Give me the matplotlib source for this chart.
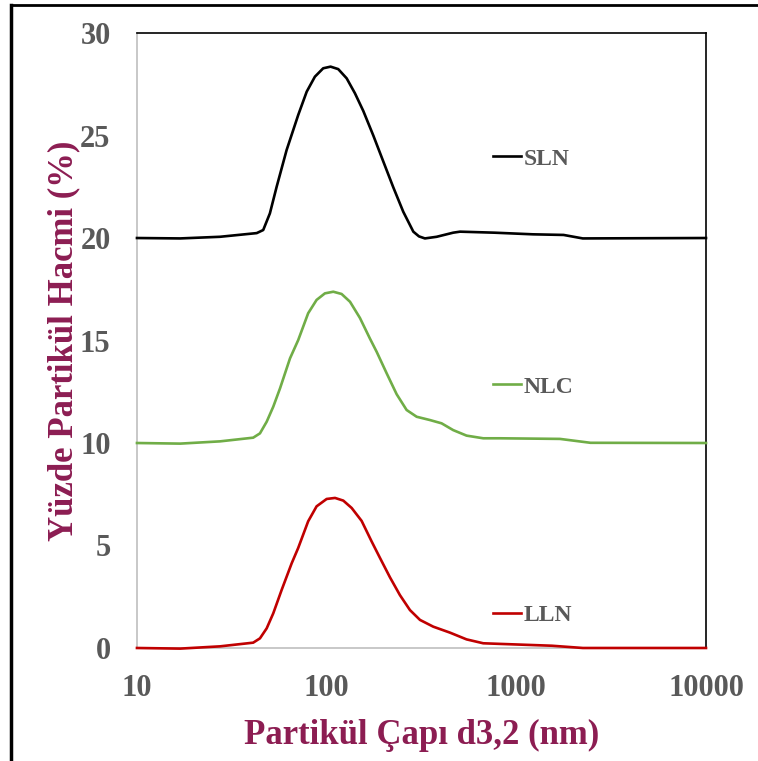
import numpy as np
import matplotlib
matplotlib.use("Agg")
import matplotlib.pyplot as plt
from matplotlib.lines import Line2D

plt.rcParams['font.family'] = ['Liberation Serif', 'DejaVu Serif']
plt.rcParams['font.weight'] = 'bold'

# particle size (nm) and volume % (curves offset by 20 / 10 / 0 as in the original)
sln_x = [10, 16.9, 27.4, 42.8, 46.3, 50.2, 54.5, 61.5, 70.8, 78.5, 86.7, 95.9, 104.9,
         115.1, 127.5, 141.0, 156.0, 176.2, 198.6, 224.4, 253.5, 286.4, 306.7, 329.6,
         380.2, 464.5, 505, 767, 1225, 1775, 2240, 10000]
sln_y = [20.0, 19.98, 20.06, 20.24, 20.39, 21.2, 22.5, 24.29, 26.0, 27.14, 27.87, 28.28, 28.36,
         28.24, 27.79, 27.06, 26.2, 25.0, 23.75, 22.48, 21.28, 20.31, 20.08, 19.98,
         20.06, 20.26, 20.31, 20.26, 20.18, 20.15, 19.98, 20.0]

nlc_x = [10, 16.9, 27.4, 41.0, 44.5, 48.3, 52.3, 56.8, 64.1, 70.8, 79.9, 88.5, 97.9,
         108.4, 119.9, 132.8, 149.8, 169.0, 183.5, 207.2, 233.9, 264.0, 298.3, 350.4,
         403.7, 464.5, 546.6, 669.2, 819.5, 1698, 2460, 10000]
nlc_y = [10.0, 9.97, 10.08, 10.26, 10.47, 11.04, 11.77, 12.67, 14.13, 15.02, 16.33, 16.98, 17.30,
         17.38, 17.27, 16.89, 16.1, 15.1, 14.45, 13.4, 12.38, 11.61, 11.28, 11.12,
         10.96, 10.63, 10.36, 10.23, 10.23, 10.2, 10.01, 10.0]

lln_x = [10, 16.9, 27.4, 41.0, 44.5, 48.3, 52.3, 57.9, 65.4, 70.8, 79.9, 88.5, 100.0,
         110.7, 122.4, 135.5, 152.9, 172.6, 190.9, 215.6, 243.4, 274.9, 310.5, 364.8,
         446.7, 546.6, 669.2, 819.5, 1541, 2244, 10000]
lln_y = [0.0, -0.03, 0.08, 0.26, 0.47, 0.96, 1.69, 2.83, 4.13, 4.88, 6.18, 6.91, 7.27,
         7.32, 7.19, 6.83, 6.2, 5.2, 4.4, 3.45, 2.58, 1.85, 1.37, 1.04,
         0.75, 0.42, 0.23, 0.20, 0.11, 0.0, 0.0]

xticks = [10, 100, 1000, 10000]
xtick_labels = ['10', '100', '1000', '10000']
yticks = [0, 5, 10, 15, 20, 25, 30]

gray = '#595959'
maroon = '#8c1d52'

fig = plt.figure(figsize=(7.58, 7.61), dpi=100)
ax = fig.add_axes([0.1807, 0.1485, 0.7507, 0.8081])

for xs, ys, c, name in [(sln_x, sln_y, 'black', 'SLN'),
                        (nlc_x, nlc_y, '#70ad47', 'NLC'),
                        (lln_x, lln_y, '#c00000', 'LLN')]:
    ax.plot(xs, ys, color=c, lw=1.9, label=name, solid_joinstyle='round',
            clip_on=False, zorder=3)

ax.set_xscale('log')
ax.set_xlim(10, 10000)
ax.set_ylim(0, 30)
ax.set_xticks(xticks)
ax.set_xticklabels(xtick_labels)
ax.xaxis.set_minor_locator(matplotlib.ticker.NullLocator())
ax.set_yticks(yticks)
ax.tick_params(axis='both', length=0, labelsize=22, labelcolor=gray)
ax.tick_params(axis='y', pad=19)
ax.tick_params(axis='x', pad=19)
for lab in ax.get_xticklabels() + ax.get_yticklabels():
    lab.set_fontweight('bold')

ax.spines['left'].set_color('#bfbfbf')
ax.spines['bottom'].set_color('#bfbfbf')
ax.spines['top'].set_color('black')
ax.spines['right'].set_color('black')
for s in ax.spines.values():
    s.set_linewidth(1.2)

ax.set_xlabel('Partikül Çapı d3,2 (nm)', fontsize=25, color=maroon, fontweight='bold', labelpad=11)
ax.set_ylabel('Yüzde Partikül Hacmi (%)', fontsize=25, color=maroon, fontweight='bold', labelpad=0)

leg = ax.legend(loc='center left', bbox_to_anchor=(0.6257, 0.4245), frameon=False,
                fontsize=17, handlelength=1.2, handletextpad=0.1, labelspacing=8.75,
                borderpad=0, borderaxespad=0)
for t in leg.get_texts():
    t.set_color(gray)
    t.set_fontweight('bold')

# outer frame of the figure
fig.add_artist(Line2D([0.0145, 0.0145], [0, 0.993], color='black', lw=2.5, transform=fig.transFigure))
fig.add_artist(Line2D([0.0145, 1.0], [0.993, 0.993], color='black', lw=2.0, transform=fig.transFigure))

fig.savefig('out.png', dpi=100)
